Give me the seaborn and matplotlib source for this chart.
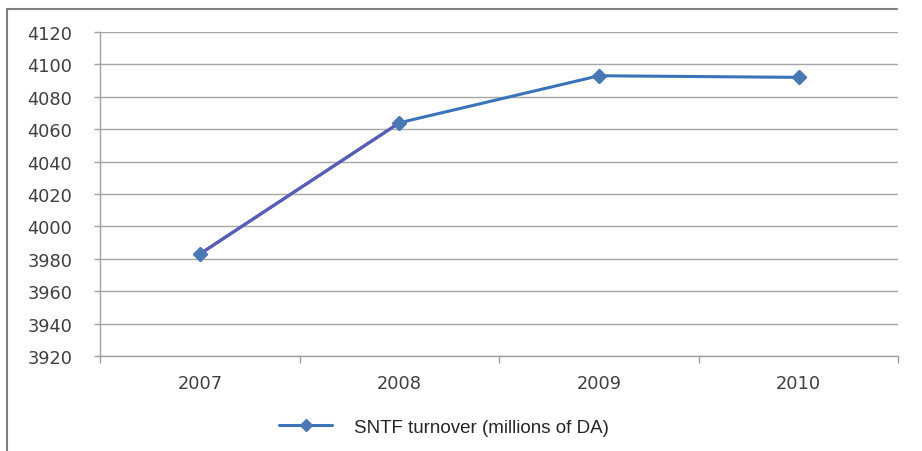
import matplotlib
matplotlib.use("Agg")
import matplotlib.pyplot as plt
from matplotlib.lines import Line2D
import seaborn as sns
import pandas as pd

# valeurs
years = ["2007", "2008", "2009", "2010"]
turnover = [3983, 4064, 4093, 4092]
series_label = "SNTF turnover (millions of DA)"
y_ticks = [3920, 3940, 3960, 3980, 4000, 4020, 4040, 4060, 4080, 4100, 4120]

df = pd.DataFrame({"year": years, "turnover": turnover})

sns.set_style("white")
plt.rcParams["font.family"] = ["DejaVu Sans"]

fig = plt.figure(figsize=(9.22, 4.52), dpi=100)
ax = fig.add_axes([0.1085, 0.21, 0.866, 0.717])

blue = "#3b73b9"
purple = "#5a5cb8"

sns.lineplot(data=df, x="year", y="turnover", ax=ax, color=blue, lw=2.2,
             marker="D", markersize=7, markeredgecolor="#4a78b5",
             markerfacecolor="#4a78b5", sort=False)
# premier segment un peu violet comme sur l'original
sns.lineplot(data=df.iloc[:2], x="year", y="turnover", ax=ax, color=purple,
             lw=2.2, sort=False)
ax.plot(range(len(years)), turnover, ls="none", marker="D", ms=7,
        color="#4a78b5")

ax.set_ylim(3920, 4120)
ax.set_xlim(-0.5, len(years) - 0.5)
ax.set_yticks(y_ticks)
ax.set_xlabel("")
ax.set_ylabel("")

ax.yaxis.grid(True, color="#a6a6a6", lw=1)
ax.set_axisbelow(True)
for s in ["top", "right"]:
    ax.spines[s].set_visible(False)
for s in ["left", "bottom"]:
    ax.spines[s].set_color("#a0a0a0")
    ax.spines[s].set_linewidth(1)

ax.tick_params(axis="y", length=4, width=1, color="#a0a0a0", pad=16,
               labelsize=12.8, labelcolor="#404040", left=True)
ax.tick_params(axis="x", length=0, pad=13, labelsize=12.8, labelcolor="#404040")
ax.set_xticks([i + 0.5 for i in range(-1, len(years))], minor=True)
ax.tick_params(axis="x", which="minor", length=5, width=1, color="#a0a0a0",
               bottom=True)

# légende en bas
handle = Line2D([], [], color=blue, lw=2.2, marker="D", ms=6,
                markerfacecolor="#4a78b5", markeredgecolor="#4a78b5")
fig.legend([handle], [series_label], loc="center", bbox_to_anchor=(0.482, 0.053),
           frameon=False, handlelength=2.8, handletextpad=1.2,
           prop={"family": "Liberation Sans", "size": 13.5})

# cadre extérieur
fig.add_artist(Line2D([0.008, 0.008], [0.0, 0.978], color="#7f7f7f", lw=1.5,
                      transform=fig.transFigure))
fig.add_artist(Line2D([0.008, 0.973], [0.978, 0.978], color="#7f7f7f", lw=1.5,
                      transform=fig.transFigure))

fig.savefig("out.png", dpi=100)
